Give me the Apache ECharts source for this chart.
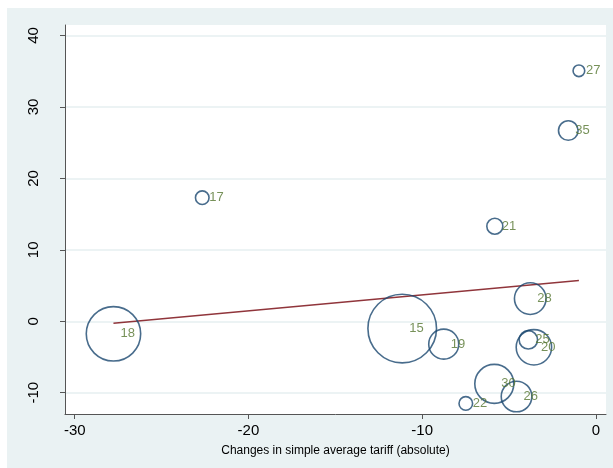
<!DOCTYPE html>
<html>
<head>
<meta charset="utf-8">
<script src="https://cdn.jsdelivr.net/npm/echarts@6/dist/echarts.min.js"></script>
<style>
html,body{margin:0;padding:0;background:#fff;}
#chart{width:613px;height:468px;}
</style>
</head>
<body>
<div id="chart"></div>
<script>
// Data
var labels = ['27','35','21','17','18','15','19','28','25','20','30','26','22'];
var tariffChange = [-0.98,-1.59,-5.82,-22.66,-27.77,-11.15,-8.76,-3.78,-3.89,-3.57,-5.85,-4.57,-7.49];
var yValues = [35.06,26.7,13.3,17.3,-1.76,-1.02,-3.2,3.17,-2.6,-3.64,-8.76,-10.53,-11.5];
var weights = [3.4,9.6,6.4,4.6,74,117.6,22.5,25,8.5,31.3,38,23.4,4.6];
var fitX = [-27.77,-0.98];
var fitY = [-0.28,5.69];
var xTicks = [-30,-20,-10,0];
var yTicks = [-10,0,10,20,30,40];
var xTitle = 'Changes in simple average tariff (absolute)';

var pts = labels.map(function(l,i){ return {name:l, value:[tariffChange[i], yValues[i], weights[i]]}; });
var fitData = fitX.map(function(x,i){ return [x, fitY[i]]; });

var chart = echarts.init(document.getElementById('chart'), null, {renderer:'canvas'});
var font = '"Liberation Sans", Arial, sans-serif';
chart.setOption({
  backgroundColor:'#EAF2F3',
  animation:false,
  graphic:[
    {type:'rect', shape:{x:0,y:0,width:613,height:8}, style:{fill:'#fff'}, z:-10, silent:true},
    {type:'rect', shape:{x:0,y:0,width:7,height:468}, style:{fill:'#fff'}, z:-10, silent:true}
  ],
  grid:{left:65, right:7, top:25, bottom:54, show:true, backgroundColor:'#fff', borderWidth:0},
  xAxis:{
    type:'value', min:-30.56, max:0.58,
    axisLine:{show:true, onZero:false, lineStyle:{color:'#555', width:1}},
    axisTick:{show:true, length:5, customValues:xTicks, lineStyle:{color:'#555'}},
    axisLabel:{customValues:xTicks, fontSize:15, color:'#000', fontFamily:font, margin:9},
    splitLine:{show:false},
    name:xTitle, nameLocation:'middle', nameGap:31,
    nameTextStyle:{fontSize:12, color:'#000', fontFamily:font}
  },
  yAxis:{
    type:'value', min:-12.98, max:41.47,
    axisLine:{show:true, onZero:false, lineStyle:{color:'#555', width:1}},
    axisTick:{show:true, length:5, customValues:yTicks, lineStyle:{color:'#555'}},
    axisLabel:{customValues:yTicks, fontSize:15, color:'#000', fontFamily:font, rotate:90, margin:24},
    splitLine:{show:true, customValues:yTicks, lineStyle:{color:'#E6EFF1', width:1.5}}
  },
  series:[
    {
      type:'scatter', data:pts,
      symbol:'circle',
      symbolSize:function(v){ return 2*Math.sqrt(v[2]*10); },
      itemStyle:{color:'rgba(0,0,0,0)', borderColor:'#1a476f', borderWidth:1.6},
      emphasis:{disabled:true}, z:3
    },
    {
      type:'scatter', data:pts, symbolSize:0,
      label:{show:true, position:'right', distance:7, formatter:'{b}', color:'#55752f', fontSize:13, fontFamily:font},
      emphasis:{disabled:true}, z:4
    },
    {
      type:'line', data:fitData, symbol:'none',
      lineStyle:{color:'#90353b', width:1.5}, emphasis:{disabled:true}, z:2
    }
  ]
});
</script>
</body>
</html>
